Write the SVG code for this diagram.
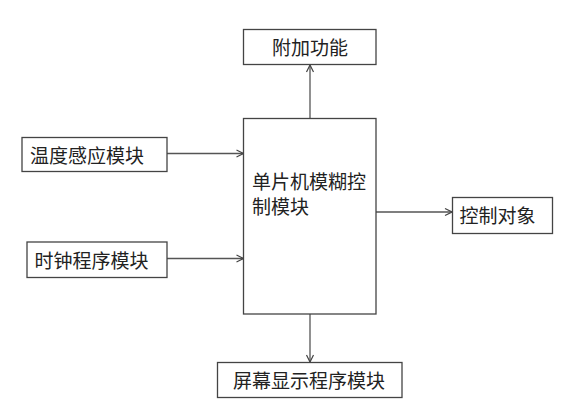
<svg xmlns="http://www.w3.org/2000/svg" width="568" height="407" viewBox="0 0 568 407">
<style>
.box{fill:#fff;stroke:#444;stroke-width:1.3}
.t{font-family:"Noto Sans CJK SC","Liberation Sans",sans-serif;font-size:19px;fill:#222;dominant-baseline:central}
.c{text-anchor:middle}
.ln{stroke:#555;stroke-width:1.3;fill:none}
</style>
<defs>
<marker id="ah" viewBox="0 0 10 10" refX="9" refY="5" markerWidth="10" markerHeight="10" markerUnits="userSpaceOnUse" orient="auto">
<path d="M2,1.5 L9,5 L2,8.5" fill="none" stroke="#444" stroke-width="1.2"/>
</marker>
</defs>
<rect width="568" height="407" fill="#fff"/>
<g id="connectors">
<line class="ln" x1="310" y1="118" x2="310" y2="65" marker-end="url(#ah)"/>
<line class="ln" x1="167" y1="153.5" x2="243.5" y2="153.5" marker-end="url(#ah)"/>
<line class="ln" x1="167" y1="258.5" x2="243.5" y2="258.5" marker-end="url(#ah)"/>
<line class="ln" x1="376" y1="212" x2="452" y2="212" marker-end="url(#ah)"/>
<line class="ln" x1="310" y1="314" x2="310" y2="362" marker-end="url(#ah)"/>
</g>
<g id="n-fujia">
<rect class="box" x="243.5" y="29.5" width="132.5" height="35"/>
<text class="t c" x="310" y="46.5">附加功能</text>
</g>
<g id="n-main">
<rect class="box" x="243.5" y="118.5" width="132.5" height="195.5"/>
<text class="t" x="252" y="180.5">单片机模糊控</text>
<text class="t" x="252" y="205">制模块</text>
</g>
<g id="n-wendu">
<rect class="box" x="22" y="137.5" width="145" height="34"/>
<text class="t" x="30" y="154">温度感应模块</text>
</g>
<g id="n-shizhong">
<rect class="box" x="27" y="242" width="140" height="35.5"/>
<text class="t" x="34.5" y="259">时钟程序模块</text>
</g>
<g id="n-kongzhi">
<rect class="box" x="452.5" y="197.5" width="100" height="36"/>
<text class="t" x="459.5" y="214.5">控制对象</text>
</g>
<g id="n-pingmu">
<rect class="box" x="217.5" y="362.5" width="184.5" height="35"/>
<text class="t c" x="309" y="379">屏幕显示程序模块</text>
</g>
</svg>
